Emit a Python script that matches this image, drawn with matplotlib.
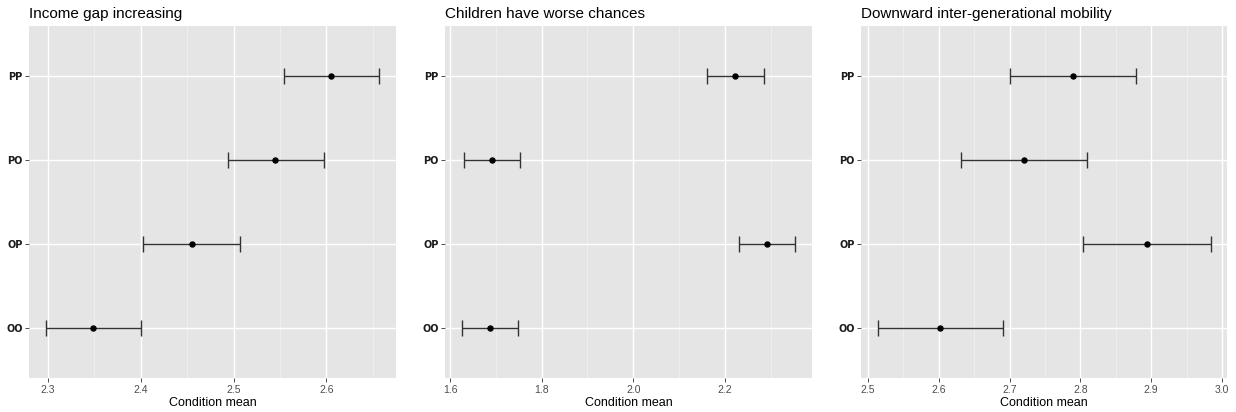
import matplotlib
matplotlib.use("Agg")
import matplotlib.pyplot as plt
from matplotlib.ticker import MultipleLocator

plt.rcParams["font.family"] = ["Liberation Sans", "DejaVu Sans"]

# Data (means and interval bounds per condition)
conditions = ["OO", "OP", "PO", "PP"]
titles = ["Income gap increasing", "Children have worse chances",
          "Downward inter-generational mobility"]

income_mean = [2.349, 2.455, 2.545, 2.605]
income_low = [2.298, 2.403, 2.494, 2.554]
income_high = [2.400, 2.507, 2.597, 2.657]

children_mean = [1.687, 2.292, 1.691, 2.223]
children_low = [1.626, 2.231, 1.630, 2.162]
children_high = [1.748, 2.354, 1.753, 2.285]

mobility_mean = [2.601, 2.894, 2.721, 2.789]
mobility_low = [2.514, 2.804, 2.632, 2.700]
mobility_high = [2.690, 2.984, 2.810, 2.878]

majors = [0.1, 0.2, 0.1]
minors = [0.05, 0.1, 0.05]

panels = [(income_mean, income_low, income_high),
          (children_mean, children_low, children_high),
          (mobility_mean, mobility_low, mobility_high)]

W, H = 1236, 412
fig = plt.figure(figsize=(W / 100, H / 100), dpi=100)

# panel rectangles in pixels: left, right
boxes = [(29.3, 396), (445.3, 812), (861.3, 1227.3)]
top, bottom = 26, 378

for i, ((m, lo, hi), (l, r)) in enumerate(zip(panels, boxes)):
    ax = fig.add_axes([l / W, 1 - bottom / H, (r - l) / W, (bottom - top) / H])
    ax.set_facecolor("#E5E5E5")
    for s in ax.spines.values():
        s.set_visible(False)
    y = list(range(1, len(conditions) + 1))
    err = [[mm - a for mm, a in zip(m, lo)], [b - mm for mm, b in zip(m, hi)]]
    ax.errorbar(m, y, xerr=err, fmt="o", color="black", ecolor="#333333",
                elinewidth=1.0, capsize=6, capthick=1.0, markersize=3.6, zorder=3)
    # ggplot style 5% expansion
    xmin, xmax = min(lo), max(hi)
    pad = (xmax - xmin) * 0.05
    ax.set_xlim(xmin - pad, xmax + pad)
    ax.set_ylim(0.4, len(conditions) + 0.6)
    ax.xaxis.set_major_locator(MultipleLocator(majors[i]))
    ax.xaxis.set_minor_locator(MultipleLocator(minors[i]))
    ax.set_yticks(y)
    ax.set_yticklabels(conditions, family="DejaVu Sans", fontweight="bold",
                       fontsize=7)
    ax.grid(which="major", color="white", linewidth=1.0)
    ax.grid(which="minor", axis="x", color="#F2F2F2", linewidth=0.5)
    ax.set_axisbelow(True)
    ax.tick_params(axis="both", which="major", length=2.8, width=0.6,
                   color="#333333", labelcolor="#4D4D4D", pad=2)
    ax.tick_params(axis="x", labelsize=7.5)
    ax.tick_params(axis="y", labelcolor="#1A1A1A")
    ax.tick_params(which="minor", length=0)
    ax.set_xlabel("Condition mean", fontsize=9, labelpad=2, color="black")
    ax.set_title(titles[i], fontsize=11, loc="left", pad=6)

fig.savefig("out.png", dpi=100, facecolor="white")
